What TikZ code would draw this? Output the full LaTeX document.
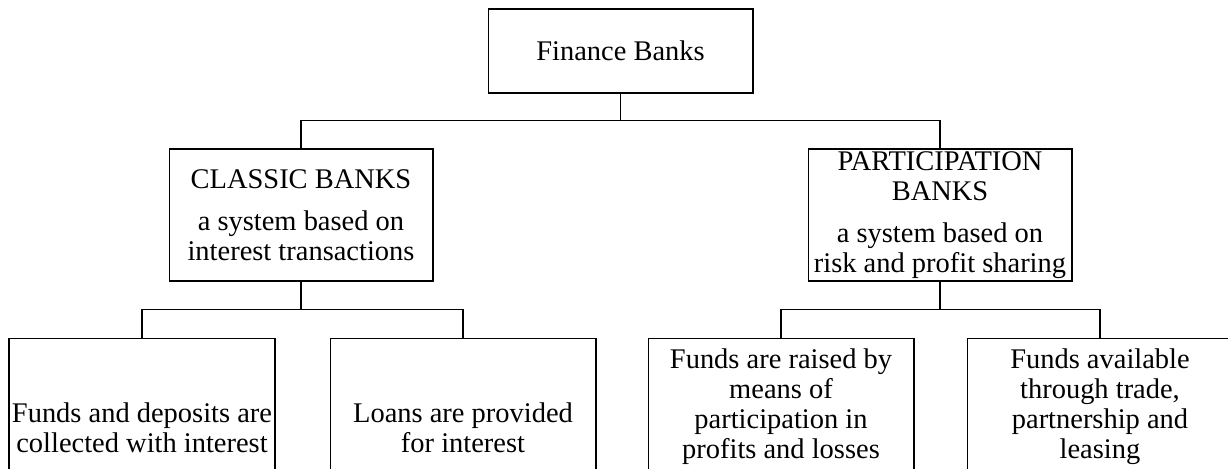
\documentclass[tikz,border=0pt]{standalone}
\usepackage{fontspec}
\setmainfont{Liberation Serif}
\usetikzlibrary{positioning}

\begin{document}
\begin{tikzpicture}[x=0.02cm, y=-0.02cm, line width=0.6pt,
    every node/.style={font=\fontsize{16.2pt}{17.1pt}\selectfont},
    bankbox/.style={draw, align=center, inner sep=0pt, minimum width=5.28cm, minimum height=2.64cm},
    leafbox/.style={draw, align=center, inner sep=0pt, minimum width=5.32cm, minimum height=3.56cm}]
    \useasboundingbox (0,0) rectangle (1228,468);
    \clip (0,0) rectangle (1228,468);

    % Root: Finance Banks
    \node[draw, minimum width=5.3cm, minimum height=1.68cm] (finance) at (620.5,51) {Finance Banks};

    % Second level: the two kinds of banks
    \node[bankbox] (classic) at (301,215) {CLASSIC BANKS\\[7pt]
        a system based on\\ interest transactions};
    \node[bankbox] (participation) at (940,215) {PARTICIPATION\\ BANKS\\[7pt]
        a system based on\\ risk and profit sharing};

    % Leaves under the classic banks
    \node[leafbox, anchor=north] (deposits) at (142,338) {Funds and deposits are\\ collected with interest};
    \node[leafbox, anchor=north] (loans) at (463,338) {Loans are provided\\ for interest};

    % Leaves under the participation banks (lower boxes, bottom edge falls off the page)
    \node[leafbox, anchor=north, minimum height=2.74cm] (raised) at (781,338) {Funds are raised by\\ means of\\ participation in\\ profits and losses};
    \node[leafbox, anchor=north, minimum height=2.74cm] (available) at (1100,338) {Funds available\\ through trade,\\ partnership and\\ leasing};

    % Connectors
    \draw (finance.south) -- ++(0,27) -| (classic.north);
    \draw (finance.south) -- ++(0,27) -| (participation.north);
    \draw (classic.south) -- ++(0,28) -| (deposits.north);
    \draw (classic.south) -- ++(0,28) -| (loans.north);
    \draw (participation.south) -- ++(0,28) -| (raised.north);
    \draw (participation.south) -- ++(0,28) -| (available.north);
\end{tikzpicture}
\end{document}
